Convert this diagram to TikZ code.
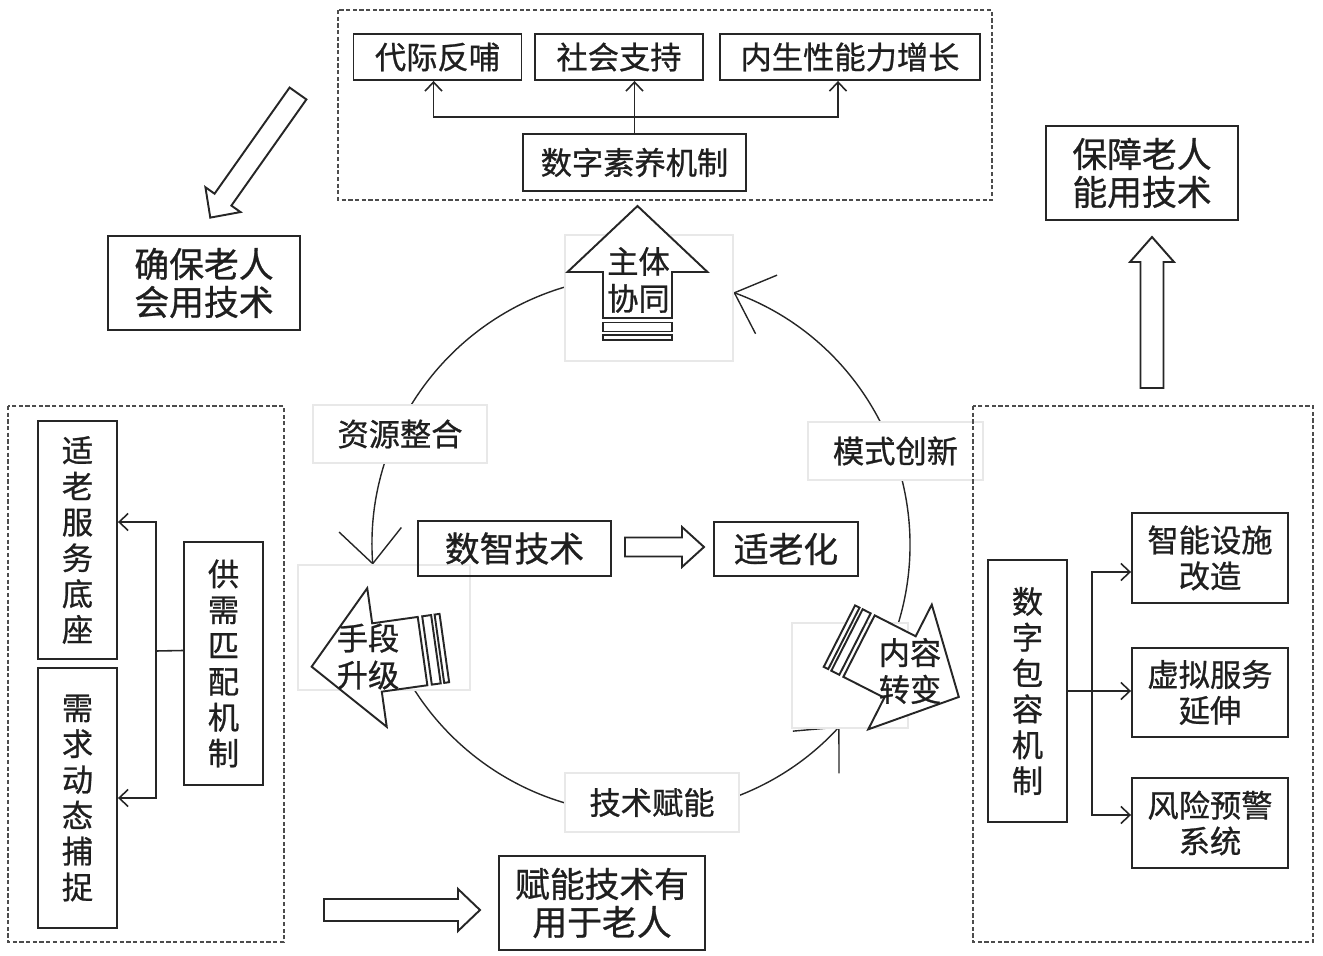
\documentclass[tikz,border=0pt]{standalone}
\usepackage{fontspec}
\setmainfont{Noto Sans CJK SC}[RawFeature={embolden=0.8}]
\usetikzlibrary{arrows.meta}

\tikzset{box/.style={draw=black!85, line width=1.1pt, text=black!88, align=center, inner sep=0pt, font=\fontsize{17.8}{20.4}\selectfont}}
\tikzset{bbox/.style={box, font=\fontsize{19.8}{21.6}\selectfont}}
\tikzset{txt/.style={box, draw=none, font=\fontsize{17.8}{21}\selectfont}}
\tikzset{ghost/.style={box, draw=black!9, line width=0.6pt, fill=white}}
\tikzset{dashbox/.style={draw=black!70, line width=0.9pt, dash pattern=on 2.4pt off 1.4pt}}
\tikzset{wire/.style={draw=black!85, line width=0.9pt}}
\tikzset{conn/.style={wire, -{Straight Barb[length=1.8mm, width=3.4mm]}}}
\tikzset{ring/.style={draw=black!85, line width=0.8pt, -{Straight Barb[length=6.8mm, width=12.5mm]}}}
\tikzset{fat/.style={draw=black!85, fill=white, line width=1.1pt}}
\tikzset{pics/hollow/.style n args={4}{code={
  \draw[fat] (0,-#2) -- ({#1-#4},-#2) -- ({#1-#4},-#3) -- (#1,0) -- ({#1-#4},#3) -- ({#1-#4},#2) -- (0,#2) -- cycle;}}}
\tikzset{pics/block/.style={code={
  \draw[fat] (0,-34.5) -- (0,-70) -- (66,0) -- (0,70) -- (0,34.5) -- (-46,34.5) -- (-46,-34.5) -- cycle;
  \draw[fat] (-50.5,-34.5) rectangle (-59.5,34.5);
  \draw[fat] (-63,-34.5) rectangle (-68,34.5);}}}

\begin{document}
\begin{tikzpicture}[x=0.02cm, y=-0.02cm]
    \useasboundingbox (0,0) rectangle (1323,956);

    \draw[ring] (641,545) ++(100:5.38cm) arc[start angle=100, end angle=184.2, radius=5.38cm];
    \draw[ring] (641,545) ++(205:5.38cm) arc[start angle=205, end angle=317.6, radius=5.38cm];
    \draw[ring] (641,545) ++(-20:5.38cm) arc[start angle=-20, end angle=69.9, radius=5.38cm];

    \node[ghost, minimum width=3.48cm, minimum height=1.16cm] (zy) at (400,434) {资源整合};
    \node[ghost, minimum width=3.5cm, minimum height=1.16cm] (ms) at (895.5,451) {模式创新};
    \node[ghost, minimum width=3.48cm, minimum height=1.18cm] (js) at (652,802.5) {技术赋能};

    \node[ghost, minimum width=3.36cm, minimum height=2.52cm] (g1) at (649,298) {};
    \node[ghost, minimum width=3.44cm, minimum height=2.5cm] (g2) at (384,627.5) {};
    \node[ghost, minimum width=2.32cm, minimum height=2.1cm] (g3) at (850,675.5) {};

    \pic[rotate=90] at (637.5,272) {block};
    \pic[rotate=188] at (377,657.5) {block};
    \pic[rotate=-27] at (900,667) {block};
    \node[txt] (t1) at (638.5,280) {主体\\协同};
    \node[txt] (t2) at (368,656.5) {手段\\升级};
    \node[txt] (t3) at (910,671) {内容\\转变};

    \draw[dashbox] (338,10) rectangle (992,200);
    \node[box, minimum width=3.36cm, minimum height=0.92cm] (dj) at (437.5,57) {代际反哺};
    \node[box, minimum width=3.36cm, minimum height=0.92cm] (sh) at (619,57) {社会支持};
    \node[box, minimum width=5.2cm, minimum height=0.92cm] (ns) at (850,57) {内生性能力增长};
    \node[box, minimum width=4.46cm, minimum height=1.14cm] (sy) at (634.5,162.5) {数字素养机制};
    \coordinate (jt) at (634.5,117);
    \draw[conn] (sy.north) -- (sy.north |- sh.south);
    \draw[conn] (jt) -| ([xshift=-0.08cm]dj.south);
    \draw[conn] (jt) -| ([xshift=-0.24cm]ns.south);

    \node[bbox, minimum width=3.84cm, minimum height=1.88cm] (qb) at (204,283) {确保老人\\会用技术};
    \node[bbox, minimum width=3.84cm, minimum height=1.88cm] (bz) at (1142,173) {保障老人\\能用技术};
    \node[bbox, minimum width=4.12cm, minimum height=1.88cm] (fn) at (602,903) {赋能技术有\\用于老人};
    \node[bbox, minimum width=3.86cm, minimum height=1.1cm] (sj) at (514.5,548.5) {数智技术};
    \node[bbox, minimum width=2.88cm, minimum height=1.08cm] (slh) at (786,549) {适老化};

    \pic[rotate=234.75] at (298,93.5) {hollow={152}{10.3}{21.5}{22}};
    \pic[rotate=90] at (1152,388) {hollow={151}{11.5}{22}{25}};
    \pic at (324,910) {hollow={156}{11}{21}{22}};
    \pic at (625,547) {hollow={79}{9.5}{20}{22}};

    \draw[dashbox] (8,406) rectangle (284,942);
    \node[box, minimum width=1.58cm, minimum height=4.76cm] (fw) at (77.5,540) {适\\老\\服\\务\\底\\座};
    \node[box, minimum width=1.58cm, minimum height=5.2cm] (xq) at (77.5,798) {需\\求\\动\\态\\捕\\捉};
    \node[box, minimum width=1.58cm, minimum height=4.86cm] (gx) at (223.5,663.5) {供\\需\\匹\\配\\机\\制};
    \coordinate (jl) at (156,651);
    \draw[wire] ([yshift=0.26cm]gx.west) -- (jl);
    \draw[conn] (jl) |- ([yshift=0.36cm]fw.east);
    \draw[conn] (jl) |- (xq.east);

    \draw[dashbox] (973,406) rectangle (1313,942);
    \node[box, minimum width=1.58cm, minimum height=5.24cm] (bk) at (1027.5,691) {数\\字\\包\\容\\机\\制};
    \node[box, minimum width=3.12cm, minimum height=1.8cm] (zn) at (1210,558) {智能设施\\改造};
    \node[box, minimum width=3.12cm, minimum height=1.78cm] (xn) at (1210,692.5) {虚拟服务\\延伸};
    \node[box, minimum width=3.12cm, minimum height=1.8cm] (fx) at (1210,823) {风险预警\\系统};
    \coordinate (jr) at (1092,691);
    \draw[conn] (bk.east) -- (bk.east -| xn.west);
    \draw[conn] (jr) |- ([yshift=-0.28cm]zn.west);
    \draw[conn] (jr) |- ([yshift=0.16cm]fx.west);
\end{tikzpicture}
\end{document}
